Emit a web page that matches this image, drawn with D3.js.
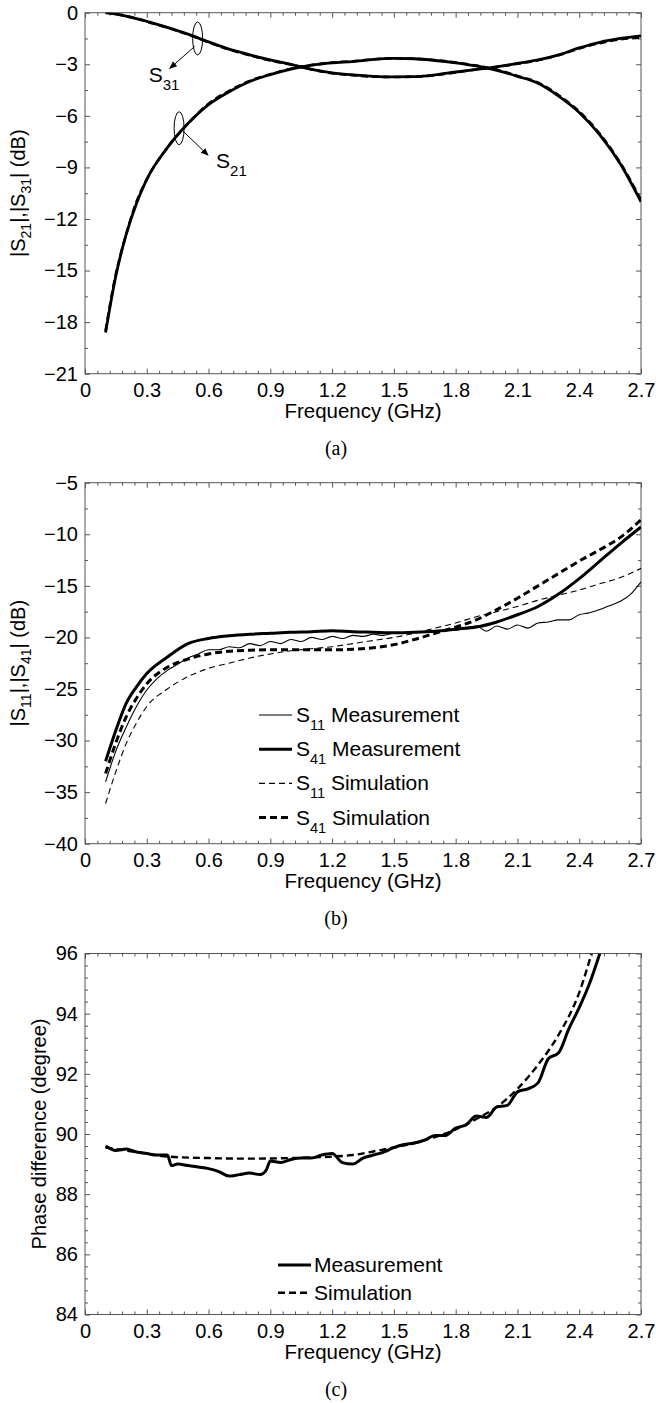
<!DOCTYPE html>
<html>
<head>
<meta charset="utf-8">
<script src="https://cdn.jsdelivr.net/npm/d3@7"></script>
<style>
  body { margin: 0; background: #fff; }
  svg text { font-family: "Liberation Sans", Arial, sans-serif; }
</style>
</head>
<body>
<script>
// ---- data ----
const xTicks = [0, 0.3, 0.6, 0.9, 1.2, 1.5, 1.8, 2.1, 2.4, 2.7];

// (a) |S21|, |S31|
const freqA = [0.1, 0.15, 0.2, 0.25, 0.3, 0.4, 0.5, 0.6, 0.7, 0.8, 0.9, 1.0, 1.1, 1.2, 1.3, 1.4, 1.5, 1.6, 1.7, 1.8, 1.9, 2.0, 2.1, 2.2, 2.3, 2.4, 2.5, 2.6, 2.7];
const s21Meas = [-18.6, -15.3, -12.9, -11.1, -9.7, -7.85, -6.45, -5.35, -4.6, -4.0, -3.6, -3.28, -3.05, -2.92, -2.84, -2.72, -2.66, -2.68, -2.78, -2.92, -3.1, -3.35, -3.7, -4.1, -4.85, -5.8, -7.1, -8.8, -11.0];
const s21Sim  = [-18.5, -15.2, -12.9, -11.0, -9.7, -7.85, -6.45, -5.3, -4.55, -3.97, -3.58, -3.26, -3.05, -2.9, -2.82, -2.72, -2.65, -2.68, -2.76, -2.9, -3.08, -3.32, -3.68, -4.07, -4.8, -5.75, -7.05, -8.75, -10.9];
const s31Meas = [0.0, -0.08, -0.2, -0.34, -0.5, -0.85, -1.25, -1.7, -2.12, -2.45, -2.75, -3.0, -3.3, -3.5, -3.62, -3.7, -3.73, -3.72, -3.62, -3.45, -3.3, -3.15, -2.95, -2.75, -2.45, -2.05, -1.72, -1.5, -1.35];
const s31Sim  = [0.0, -0.08, -0.2, -0.35, -0.52, -0.87, -1.27, -1.72, -2.14, -2.48, -2.78, -3.02, -3.3, -3.52, -3.63, -3.72, -3.74, -3.72, -3.63, -3.47, -3.3, -3.15, -2.97, -2.77, -2.47, -2.08, -1.77, -1.55, -1.45];

// (b) |S11|, |S41|
const freqB = [0.1, 0.15, 0.2, 0.25, 0.3, 0.4, 0.5, 0.6, 0.7, 0.8, 0.9, 1.0, 1.1, 1.2, 1.3, 1.4, 1.5, 1.6, 1.7, 1.8, 1.9, 2.0, 2.1, 2.2, 2.3, 2.4, 2.5, 2.6, 2.7];
const s41Meas = [-32.0, -29.0, -26.4, -24.8, -23.5, -21.9, -20.6, -20.1, -19.85, -19.7, -19.6, -19.5, -19.45, -19.35, -19.45, -19.5, -19.55, -19.5, -19.4, -19.2, -19.0, -18.5, -17.8, -17.0, -15.8, -14.3, -12.6, -10.9, -9.3];
const s11Sim  = [-36.1, -33.0, -30.3, -28.3, -26.7, -25.0, -23.8, -23.0, -22.5, -22.0, -21.6, -21.3, -21.1, -20.9, -20.6, -20.3, -20.0, -19.6, -19.1, -18.6, -18.0, -17.5, -17.0, -16.4, -15.9, -15.4, -14.8, -14.2, -13.3];
const s41Sim  = [-33.2, -30.2, -27.7, -25.9, -24.5, -22.9, -22.1, -21.6, -21.35, -21.25, -21.2, -21.2, -21.2, -21.2, -21.15, -21.0, -20.7, -20.2, -19.6, -19.0, -18.3, -17.3, -16.2, -15.0, -13.8, -12.6, -11.5, -10.3, -8.6];
// S11 measurement has a small ripple, so it is read on a finer grid
const freqS11 = [0.1, 0.15, 0.2, 0.25, 0.3, 0.35, 0.4, 0.45, 0.5, 0.55, 0.6, 0.65, 0.7, 0.75, 0.8, 0.85, 0.9, 0.95, 1.0, 1.05, 1.1, 1.15, 1.2, 1.25, 1.3, 1.35, 1.4, 1.45, 1.5, 1.55, 1.6, 1.65, 1.7, 1.75, 1.8, 1.85, 1.9, 1.95, 2.0, 2.05, 2.1, 2.15, 2.2, 2.25, 2.3, 2.35, 2.4, 2.45, 2.5, 2.55, 2.6, 2.65, 2.7];
const s11Meas = [-34.0, -31.0, -28.7, -26.7, -25.1, -24.0, -23.2, -22.6, -22.0, -21.6, -21.2, -21.2, -20.9, -21.0, -20.6, -20.8, -20.4, -20.6, -20.2, -20.4, -20.0, -20.2, -19.9, -20.1, -19.8, -19.9, -19.7, -19.8, -19.6, -19.6, -19.5, -19.5, -19.4, -19.3, -19.3, -19.1, -18.9, -19.4, -18.9, -19.2, -18.8, -19.1, -18.6, -18.5, -18.3, -18.3, -17.8, -17.6, -17.3, -16.9, -16.5, -15.8, -14.6];

// (c) phase difference
const freqC = [0.1, 0.15, 0.2, 0.25, 0.3, 0.35, 0.4, 0.42, 0.45, 0.5, 0.55, 0.6, 0.65, 0.7, 0.75, 0.8, 0.85, 0.88, 0.9, 0.95, 1.0, 1.05, 1.1, 1.15, 1.2, 1.25, 1.3, 1.35, 1.4, 1.45, 1.5, 1.55, 1.6, 1.65, 1.7, 1.75, 1.8, 1.85, 1.9, 1.95, 2.0, 2.05, 2.1, 2.15, 2.2, 2.25, 2.3, 2.35, 2.4, 2.45, 2.5];
const phaseMeas = [89.6, 89.45, 89.5, 89.4, 89.35, 89.3, 89.3, 88.95, 89.0, 88.95, 88.9, 88.85, 88.75, 88.6, 88.65, 88.7, 88.65, 88.8, 89.1, 89.05, 89.15, 89.2, 89.2, 89.3, 89.35, 89.05, 89.0, 89.2, 89.3, 89.4, 89.55, 89.65, 89.7, 89.8, 89.95, 89.95, 90.2, 90.3, 90.6, 90.55, 90.9, 90.95, 91.4, 91.5, 91.7, 92.5, 92.7, 93.5, 94.2, 95.0, 96.0];
const freqCSim = [0.1, 0.2, 0.3, 0.4, 0.6, 0.8, 1.0, 1.2, 1.3, 1.4, 1.5, 1.6, 1.7, 1.8, 1.9, 2.0, 2.1, 2.2, 2.3, 2.4, 2.46];
const phaseSim = [89.55, 89.45, 89.35, 89.25, 89.2, 89.18, 89.2, 89.25, 89.3, 89.42, 89.55, 89.7, 89.9, 90.15, 90.5, 90.9, 91.5, 92.3, 93.3, 94.7, 96.0];

// ---- layout ----
const width = 656, height = 1403;
const left = 85, right = 641;
const plotH = 361;
const frameColor = "#555";

const svg = d3.select("body").append("svg")
  .attr("width", width).attr("height", height)
  .attr("viewBox", [0, 0, width, height]);

const x = d3.scaleLinear().domain([0, 2.7]).range([left, right]);
const xMinor = d3.range(0, 2.7001, 0.06).filter(v => Math.abs(v / 0.3 - Math.round(v / 0.3)) > 1e-6);

// write text with subscripts: parts = [[string, isSub], ...]
function subText(sel, parts, size, subSize, shift) {
  let down = false;
  parts.forEach(([s, sub]) => {
    const t = sel.append("tspan").text(s).attr("font-size", sub ? subSize : size);
    if (sub && !down) { t.attr("dy", shift); down = true; }
    else if (!sub && down) { t.attr("dy", -shift); down = false; }
  });
}

function drawPanel(p) {
  const top = p.top, bottom = top + plotH;
  const y = d3.scaleLinear().domain(p.yDomain).range([bottom, top]);
  const g = svg.append("g");
  const clipId = "clip-" + p.id;

  g.append("clipPath").attr("id", clipId)
    .append("rect").attr("x", left).attr("y", top).attr("width", right - left).attr("height", plotH);

  // minor ticks on all four sides
  const yMinor = d3.range(p.yDomain[0], p.yDomain[1] + 1e-9, p.yMinorStep)
    .filter(v => !p.yTicks.some(t => Math.abs(t - v) < 1e-6));
  const minorAxes = [
    [d3.axisBottom(x).tickValues(xMinor), `translate(0,${bottom})`],
    [d3.axisTop(x).tickValues(xMinor), `translate(0,${top})`],
    [d3.axisLeft(y).tickValues(yMinor), `translate(${left},0)`],
    [d3.axisRight(y).tickValues(yMinor), `translate(${right},0)`]
  ];
  minorAxes.forEach(([ax, tr]) => {
    g.append("g").attr("transform", tr)
      .call(ax.tickSize(-3).tickFormat("").tickSizeOuter(0))
      .call(s => s.select(".domain").remove())
      .call(s => s.selectAll("line").attr("stroke", frameColor));
  });

  // major ticks
  g.append("g").attr("transform", `translate(0,${bottom})`)
    .call(d3.axisBottom(x).tickValues(xTicks).tickSize(-5).tickSizeOuter(0).tickPadding(9)
      .tickFormat(d => d === 0 ? "0" : d3.format(".1f")(d)))
    .call(s => s.select(".domain").remove())
    .call(s => s.selectAll("line").attr("stroke", frameColor))
    .call(s => s.selectAll("text").attr("font-size", 20).attr("fill", "#000")
      .attr("font-family", "'Liberation Sans', Arial, sans-serif"));
  g.append("g").attr("transform", `translate(0,${top})`)
    .call(d3.axisTop(x).tickValues(xTicks).tickSize(-5).tickSizeOuter(0).tickFormat(""))
    .call(s => s.select(".domain").remove())
    .call(s => s.selectAll("line").attr("stroke", frameColor));
  g.append("g").attr("transform", `translate(${left},0)`)
    .call(d3.axisLeft(y).tickValues(p.yTicks).tickSize(-5).tickSizeOuter(0).tickPadding(7)
      .tickFormat(d3.format("d")))
    .call(s => s.select(".domain").remove())
    .call(s => s.selectAll("line").attr("stroke", frameColor))
    .call(s => s.selectAll("text").attr("font-size", 20).attr("fill", "#000")
      .attr("font-family", "'Liberation Sans', Arial, sans-serif"));
  g.append("g").attr("transform", `translate(${right},0)`)
    .call(d3.axisRight(y).tickValues(p.yTicks).tickSize(-5).tickSizeOuter(0).tickFormat(""))
    .call(s => s.select(".domain").remove())
    .call(s => s.selectAll("line").attr("stroke", frameColor));

  // frame
  g.append("rect").attr("x", left).attr("y", top).attr("width", right - left).attr("height", plotH)
    .attr("fill", "none").attr("stroke", frameColor).attr("stroke-width", 1);

  // curves
  const line = d3.line().x(d => x(d[0])).y(d => y(d[1])).curve(d3.curveMonotoneX);
  const curves = g.append("g").attr("clip-path", `url(#${clipId})`);
  p.series.forEach(s => {
    curves.append("path")
      .datum(s.f.map((f, i) => [f, s.v[i]]))
      .attr("fill", "none").attr("stroke", "#000")
      .attr("stroke-width", s.w)
      .attr("stroke-dasharray", s.dash || null)
      .attr("stroke-linejoin", "round")
      .attr("d", line);
  });

  // axis titles
  g.append("text").attr("x", (left + right) / 2).attr("y", bottom + 44)
    .attr("text-anchor", "middle").attr("font-size", 20.5).text("Frequency (GHz)");
  const yl = g.append("text")
    .attr("transform", `translate(${p.yLabelX},${(top + bottom) / 2}) rotate(-90)`)
    .attr("text-anchor", "middle").attr("font-size", 20);
  subText(yl, p.yLabel, 20, 14, 6);

  // caption
  g.append("text").attr("x", 336).attr("y", bottom + 81)
    .attr("text-anchor", "middle").attr("font-size", 20)
    .style("font-family", "'Liberation Serif', 'Times New Roman', serif")
    .text(p.caption);

  return { g, y };
}

// ---- panel (a) ----
const pa = drawPanel({
  id: "a", top: 12.7, yDomain: [-21, 0], yTicks: d3.range(-21, 1, 3), yMinorStep: 1.5,
  yLabelX: 25, caption: "(a)",
  yLabel: [["|S", false], ["21", true], ["|,|S", false], ["31", true], ["| (dB)", false]],
  series: [
    { f: freqA, v: s21Meas, w: 2.8 },
    { f: freqA, v: s21Sim, w: 2.6, dash: "7,4" },
    { f: freqA, v: s31Meas, w: 2.8 },
    { f: freqA, v: s31Sim, w: 2.6, dash: "7,4" }
  ]
});

// S31 / S21 markers: ellipse + arrow + label
svg.append("defs").append("marker").attr("id", "arrow")
  .attr("viewBox", "0 0 10 10").attr("refX", 9).attr("refY", 5)
  .attr("markerWidth", 8).attr("markerHeight", 8).attr("orient", "auto-start-reverse")
  .append("path").attr("d", "M0,1 L10,5 L0,9 Z").attr("fill", "#000");

function marker(f, v, dx, dy, label, tx, ty) {
  const cx = x(f), cy = pa.y(v);
  pa.g.append("ellipse").attr("cx", cx).attr("cy", cy).attr("rx", 5).attr("ry", 16.5)
    .attr("fill", "none").attr("stroke", "#000").attr("stroke-width", 1);
  pa.g.append("line").attr("x1", cx + dx[0]).attr("y1", cy + dx[1])
    .attr("x2", cx + dy[0]).attr("y2", cy + dy[1])
    .attr("stroke", "#000").attr("stroke-width", 1).attr("marker-end", "url(#arrow)");
  const t = pa.g.append("text").attr("x", cx + tx).attr("y", cy + ty).attr("font-size", 21);
  subText(t, [["S", false], [label, true]], 21, 15, 8);
}
marker(0.547, -1.5, [-3, 8], [-28, 30], "31", -49, 44);
marker(0.457, -6.72, [4, 3], [29, 27], "21", 37, 40);

// ---- panel (b) ----
const pb = drawPanel({
  id: "b", top: 482.7, yDomain: [-40, -5], yTicks: d3.range(-40, -4, 5), yMinorStep: 2.5,
  yLabelX: 25, caption: "(b)",
  yLabel: [["|S", false], ["11", true], ["|,|S", false], ["41", true], ["| (dB)", false]],
  series: [
    { f: freqS11, v: s11Meas, w: 1.1 },
    { f: freqB, v: s41Meas, w: 3 },
    { f: freqB, v: s11Sim, w: 1.1, dash: "6,4" },
    { f: freqB, v: s41Sim, w: 3, dash: "7,4" }
  ]
});

const legendB = [
  { sub: "11", name: "Measurement", w: 1.1 },
  { sub: "41", name: "Measurement", w: 3 },
  { sub: "11", name: "Simulation", w: 1.1, dash: "6,4" },
  { sub: "41", name: "Simulation", w: 3, dash: "7,4" }
];
legendB.forEach((d, i) => {
  const ly = 715 + i * 34.2;
  pb.g.append("line").attr("x1", 259).attr("x2", 292).attr("y1", ly).attr("y2", ly)
    .attr("stroke", "#000").attr("stroke-width", d.w).attr("stroke-dasharray", d.dash || null);
  const t = pb.g.append("text").attr("x", 296).attr("y", ly + 7).attr("font-size", 21);
  subText(t, [["S", false], [d.sub, true], ["\u00a0" + d.name, false]], 21, 14.5, 8);
});

// ---- panel (c) ----
const pc = drawPanel({
  id: "c", top: 953.5, yDomain: [84, 96], yTicks: d3.range(84, 97, 2), yMinorStep: 0.4,
  yLabelX: 46, caption: "(c)",
  yLabel: [["Phase difference (degree)", false]],
  series: [
    { f: freqC, v: phaseMeas, w: 3 },
    { f: freqCSim, v: phaseSim, w: 2.4, dash: "7,4" }
  ]
});

const legendC = [
  { name: "Measurement", w: 3 },
  { name: "Simulation", w: 2.4, dash: "7,4" }
];
legendC.forEach((d, i) => {
  const ly = 1265 + i * 27.7;
  pc.g.append("line").attr("x1", 278).attr("x2", 311).attr("y1", ly).attr("y2", ly)
    .attr("stroke", "#000").attr("stroke-width", d.w).attr("stroke-dasharray", d.dash || null);
  pc.g.append("text").attr("x", 314).attr("y", ly + 7).attr("font-size", 21).text(d.name);
});
</script>
</body>
</html>
